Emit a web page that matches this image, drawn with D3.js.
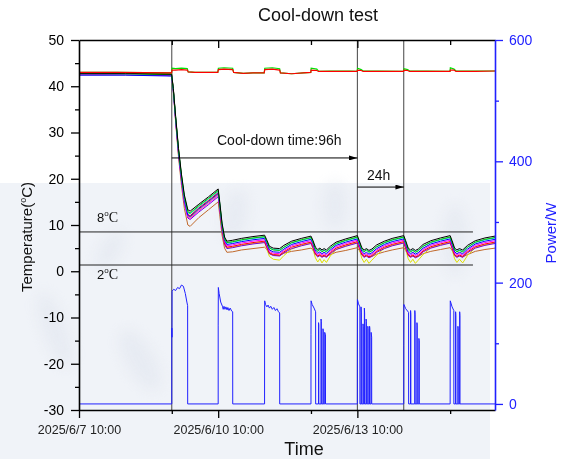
<!DOCTYPE html>
<html><head><meta charset="utf-8">
<script src="https://cdn.jsdelivr.net/npm/d3@7"></script>
<style>html,body{margin:0;padding:0;background:#fff;} svg{display:block;}</style>
</head><body>
<svg id="chart" width="563" height="459"></svg>
<script>
// ---------------- DATA ----------------
const startTime = "2025-06-07T10:00";
const endHours = 215.2;                       // hours after start shown on the x axis
const xMajorTicks = ["2025-06-07T10:00", "2025-06-10T10:00", "2025-06-13T10:00"];
const xMinorTicks = ["2025-06-09T10:00", "2025-06-12T10:00", "2025-06-15T10:00"];
const tempTicks = [-30, -20, -10, 0, 10, 20, 30, 40, 50];
const tempMinorTicks = [-25, -15, -5, 5, 15, 25, 35, 45];
const powerTicks = [0, 200, 400, 600];
const powerMinorTicks = [100, 300, 500];

// sample times (hours after 2025/6/7 10:00) for the sensor temperatures
const tempHours = [0,24,47.9, 48.8,50,51.5,53,54.5,56.3,57.5, 62,67,72,
  72.8,74,75.3,76.5,79.5,84,90,96,
  97,98.5,100.5,103.8,106,110,115,120,
  121,122.3,123.5,124.6,125.7,126.8,128,130,133,138,144,
  145,146.3,147.5,148.7,150,151.5,154,158,162,168,
  169,170.3,171.5,172.7,174,175.5,178,182,187,192,
  193,194.3,195.5,196.8,198.5,201,205,210,215.2];

const sensorBlack = [42.8,42.8,42.6, 39.5,33.5,26.5,21.0,16.5,13.3,13.0, 14.5,16.1,17.8,
  15.0,10.4,7.4,6.5,6.7,7.1,7.5,7.8,
  6.9,5.4,5.0,4.9,5.6,6.5,7.1,7.6,
  6.7,5.2,4.7,5.0,4.6,4.9,4.6,5.4,6.3,7.0,7.7,
  6.6,5.1,4.6,4.9,4.5,4.8,5.7,6.5,7.1,7.7,
  6.6,5.0,4.6,4.9,4.5,4.8,5.8,6.6,7.2,7.7,
  6.6,5.0,4.6,4.9,4.6,5.6,6.6,7.2,7.6];
const sensorGreen = [42.7,42.7,42.5, 39.3,33.3,26.3,20.7,16.2,12.9,12.6, 14.2,15.8,17.5,
  14.7,10.1,7.1,6.2,6.4,6.8,7.2,7.5,
  6.6,5.0,4.6,4.5,5.2,6.2,6.8,7.3,
  6.4,4.8,4.3,4.7,4.2,4.5,4.2,5.0,6.0,6.7,7.4,
  6.3,4.7,4.2,4.6,4.1,4.4,5.3,6.2,6.8,7.4,
  6.3,4.6,4.2,4.5,4.1,4.4,5.4,6.3,6.9,7.4,
  6.3,4.6,4.2,4.5,4.2,5.2,6.3,6.9,7.3];
const sensorCyan = [42.8,42.7,42.6, 39.3,33.2,26.1,20.6,16.0,12.7,12.4, 14.0,15.6,17.3,
  14.6,10.0,7.0,6.1,6.3,6.7,7.1,7.4,
  6.5,5.1,4.7,4.6,5.2,6.1,6.7,7.2,
  6.3,4.9,4.4,4.7,4.3,4.6,4.3,5.0,5.9,6.6,7.3,
  6.2,4.8,4.3,4.6,4.2,4.5,5.3,6.1,6.7,7.3,
  6.2,4.7,4.3,4.6,4.2,4.5,5.4,6.2,6.8,7.3,
  6.2,4.7,4.3,4.6,4.3,5.2,6.2,6.8,7.2];
const sensorBlue = [42.4,42.4,42.2, 39.0,32.8,25.7,20.1,15.5,12.1,11.8, 13.5,15.1,16.8,
  14.2,9.6,6.7,5.8,6.0,6.4,6.8,7.1,
  6.1,4.6,4.2,4.1,4.8,5.8,6.4,6.9,
  6.0,4.4,3.9,4.2,3.8,4.1,3.8,4.6,5.6,6.3,7.0,
  5.8,4.3,3.8,4.1,3.7,4.0,4.9,5.8,6.4,7.0,
  5.8,4.2,3.8,4.1,3.7,4.0,5.0,5.9,6.5,7.0,
  5.8,4.2,3.8,4.1,3.8,4.8,5.9,6.5,6.9];
const sensorMagenta = [42.6,42.6,42.4, 39.1,32.7,25.5,19.8,15.1,11.7,11.4, 13.1,14.7,16.4,
  13.8,9.3,6.4,5.5,5.7,6.1,6.5,6.8,
  5.8,4.3,3.9,3.8,4.5,5.5,6.1,6.6,
  5.7,4.1,3.6,3.9,3.5,3.8,3.5,4.3,5.3,6.0,6.7,
  5.5,4.0,3.5,3.8,3.4,3.7,4.6,5.5,6.1,6.7,
  5.5,3.9,3.5,3.8,3.4,3.7,4.7,5.6,6.2,6.7,
  5.5,3.9,3.5,3.8,3.5,4.5,5.6,6.2,6.6];
const sensorRed = [42.9,42.9,42.7, 39.4,33.1,26.0,20.3,15.7,12.3,12.0, 13.7,15.3,17.0,
  13.9,9.2,6.1,5.2,5.4,5.8,6.2,6.5,
  5.5,4.0,3.6,3.5,4.2,5.2,5.8,6.3,
  5.4,3.8,3.3,3.6,3.2,3.5,3.2,4.0,5.0,5.7,6.4,
  5.2,3.7,3.2,3.5,3.1,3.4,4.3,5.2,5.8,6.4,
  5.2,3.6,3.2,3.5,3.1,3.4,4.4,5.3,5.9,6.4,
  5.2,3.6,3.2,3.5,3.2,4.2,5.3,5.9,6.3];
const sensorPurple = [42.5,42.5,42.3, 39.0,32.5,25.2,19.5,14.8,11.5,11.2, 12.8,14.4,16.1,
  13.4,8.8,5.8,4.9,5.1,5.5,5.9,6.2,
  5.3,3.8,3.4,3.3,4.0,4.9,5.5,6.0,
  5.1,3.6,3.1,3.4,3.0,3.3,3.0,3.8,4.7,5.4,6.1,
  5.0,3.5,3.0,3.3,2.9,3.2,4.1,4.9,5.5,6.1,
  5.0,3.4,3.0,3.3,2.9,3.2,4.2,5.0,5.6,6.1,
  5.0,3.4,3.0,3.3,3.0,4.0,5.0,5.6,6.0];
const sensorYellow = [42.6,42.6,42.4, 39.2,32.9,25.7,19.9,15.2,11.9,11.6, 13.3,14.9,16.6,
  13.6,8.9,5.9,5.0,5.2,5.6,6.0,6.3,
  5.0,3.2,2.6,2.4,3.4,4.8,5.6,6.1,
  4.8,2.9,2.0,2.7,1.8,2.5,1.9,3.3,4.7,5.5,6.2,
  4.8,2.8,1.9,2.6,1.7,2.4,3.5,5.0,5.6,6.2,
  4.8,2.7,1.9,2.6,1.7,2.4,3.6,5.1,5.7,6.2,
  4.8,2.7,1.9,2.6,1.8,3.4,5.1,5.7,6.1];
const sensorBrown = [42.5,42.5,42.3, 38.9,32.2,24.6,18.6,13.6,10.0,9.7, 11.6,13.3,15.0,
  12.2,7.8,5.0,4.1,4.2,4.6,4.9,5.2,
  4.8,3.8,3.5,3.4,3.9,4.3,4.6,5.0,
  4.6,3.7,3.3,3.4,3.2,3.3,3.2,3.6,4.1,4.5,5.1,
  4.5,3.6,3.2,3.3,3.1,3.2,3.7,4.2,4.6,5.1,
  4.5,3.5,3.2,3.3,3.1,3.2,3.8,4.3,4.7,5.1,
  4.5,3.5,3.2,3.3,3.1,3.6,4.3,4.7,5.0];

// ambient temperature (two probes)
const ambientHours = [0,20,47.9, 48.1,50,53,56,56.5, 60,66,71.8, 72.1,75,79.5,80, 85,90,95.8,
  96.1,100,103.8,104.2, 110,116,119.9, 120.1,123,124, 130,140,143.9, 144.1,146,147, 155,167.9,
  168.1,170,171, 180,191.9, 192.1,194,195, 205,215.2];
const ambientRed = [43.0,43.0,42.9, 43.5,43.5,43.6,43.5,43.1, 43.0,43.0,43.0, 43.6,43.7,43.6,43.0,
  42.8,42.9,42.9, 43.6,43.7,43.5,42.9, 42.7,42.9,43.0, 43.5,43.4,43.2, 43.2,43.2,43.2,
  43.5,43.4,43.2, 43.2,43.2, 43.5,43.4,43.2, 43.2,43.2, 43.5,43.5,43.2, 43.2,43.3];
const ambientGreen = [43.0,43.0,42.9, 43.9,43.8,43.9,43.8,43.1, 43.0,43.0,43.0, 43.9,44.0,43.9,43.0,
  42.8,42.9,42.9, 43.9,44.0,43.8,42.9, 42.7,42.9,43.0, 43.9,43.7,43.2, 43.3,43.3,43.2,
  43.9,43.6,43.3, 43.3,43.2, 43.8,43.6,43.3, 43.3,43.2, 44.0,43.7,43.3, 43.3,43.3];

// cooling power: [hours after start, watts]
const powerTrace = [
  [0,0],[48,0],[48.01,125],[48.1,110],[48.15,186],[49,189],[50,187],[51,192],[52,190],[53,196],[54,194],[55,182],[55.8,168],[56.2,162],[56.22,0],
  [72,0],[72.01,130],[72.08,192],[72.5,182],[73.3,168],[74.2,161],[74.6,156],[75,161],[75.5,156],[76,160],[76.6,155],[77,159],[77.6,154],[78.2,158],[79,153],[79.5,152],[79.52,0],
  [96,0],[96.01,107],[96.06,170],[96.5,164],[97.2,160],[97.8,163],[98.5,158],[99.2,161],[100,156],[100.8,159],[101.6,154],[102.4,157],[103.2,152],[103.8,150],[103.82,0],
  [120,0],[120.01,115],[120.06,170],[120.6,164],[121.6,158],[122.4,152],[122.42,0],
  [123.9,0],[123.92,134],[124.05,130],[124.07,0],
  [125.2,0],[125.22,140],[125.35,136],[125.37,0],
  [126.2,0],[126.22,124],[126.35,120],[126.37,0],
  [127.1,0],[127.12,118],[127.5,114],[127.52,0],
  [144,0],[144.01,90],[144.06,172],[144.6,165],[145.3,160],[145.32,0],
  [145.9,0],[145.92,160],[146.05,150],[146.07,0],
  [146.9,0],[146.92,132],[147.05,128],[147.07,0],
  [147.6,0],[147.62,158],[147.75,150],[147.77,0],
  [148.5,0],[148.52,140],[148.65,136],[148.67,0],
  [149.4,0],[149.42,128],[149.55,124],[149.57,0],
  [150.3,0],[150.32,128],[150.45,124],[150.47,0],
  [151.1,0],[151.12,118],[151.4,110],[151.42,0],
  [168,0],[168.01,96],[168.06,164],[169,157],[170.5,151],[170.52,0],
  [171.5,0],[171.52,154],[171.65,148],[171.67,0],
  [173.7,0],[173.72,154],[173.85,148],[173.87,0],
  [174.8,0],[174.82,134],[174.95,130],[174.97,0],
  [175.8,0],[175.82,108],[176.0,104],[176.02,0],
  [192,0],[192.01,107],[192.06,170],[193,160],[193.9,154],[193.92,0],
  [194.8,0],[194.82,152],[194.95,146],[194.97,0],
  [196,0],[196.02,128],[196.15,124],[196.17,0],
  [196.9,0],[196.92,152],[197.05,146],[197.07,0],
  [215.2,0]
];

// annotation values
const markerHours = [48, 144, 168];              // vertical reference lines
const refTemps = [8.5, 1.35];                    // horizontal reference lines
const refLabels = ["8", "2"];
const refLineEndHours = 203.8;
const arrowFrom = [48, 144];
const arrowTo = [144, 168];
const arrowTemps = [24.5, 18.2];
const arrowLabels = ["Cool-down time:96h", "24h"];

// ---------------- STYLE / LAYOUT ----------------
const sensorStyle = [
  {data: sensorBrown, color: "#c0682a"},
  {data: sensorYellow, color: "#dede00"},
  {data: sensorPurple, color: "#7a00d6"},
  {data: sensorRed, color: "#ff0000"},
  {data: sensorMagenta, color: "#ff00ff"},
  {data: sensorBlue, color: "#0000ff"},
  {data: sensorCyan, color: "#00d0d0"},
  {data: sensorGreen, color: "#00c800"},
  {data: sensorBlack, color: "#000000"}
];
const W = 563, H = 459;
const plot = {left: 79, right: 495, top: 40, bottom: 410};
const FONT = "'Liberation Sans', Arial, Helvetica, sans-serif";
const SERIF = "'Liberation Serif', 'Times New Roman', serif";
const BLUE = "#2020ff";

const svg = d3.select("#chart");
const t0 = new Date(startTime);
const toDate = h => new Date(t0.getTime() + h * 3600000);
const x = d3.scaleTime().domain([toDate(0), toDate(endHours)]).range([plot.left, plot.right]);
const yT = d3.scaleLinear().domain([-30, 50]).range([plot.bottom, plot.top]);
const yP = d3.scaleLinear().domain([-10, 600]).range([plot.bottom, plot.top]);

// faded background picture region
const defs = svg.append("defs");
defs.append("filter").attr("id", "blur").append("feGaussianBlur").attr("stdDeviation", 7);
svg.append("rect").attr("x", 0).attr("y", 183).attr("width", 490).attr("height", H - 183).attr("fill", "#f0f3f8");
const swirl = svg.append("g").attr("filter", "url(#blur)").attr("fill", "#dde2ec").attr("opacity", 0.45);
[[55, 330, 12, 40, -20], [140, 360, 14, 34, -30], [235, 215, 12, 26, 10], [335, 205, 12, 24, 0],
 [455, 240, 12, 36, 0], [110, 250, 10, 22, 30]].forEach(e =>
  swirl.append("ellipse").attr("cx", e[0]).attr("cy", e[1]).attr("rx", e[2]).attr("ry", e[3])
    .attr("transform", `rotate(${e[4]},${e[0]},${e[1]})`));

defs.append("clipPath").attr("id", "clip").append("rect")
  .attr("x", plot.left).attr("y", plot.top).attr("width", plot.right - plot.left).attr("height", plot.bottom - plot.top);
defs.append("marker").attr("id", "arrow").attr("viewBox", "0 0 10 6").attr("refX", 10).attr("refY", 3)
  .attr("markerWidth", 10).attr("markerHeight", 5).attr("markerUnits", "userSpaceOnUse").attr("orient", "auto")
  .append("path").attr("d", "M0,0L10,3L0,6Z").attr("fill", "#000");

const body = svg.append("g").attr("clip-path", "url(#clip)");

// vertical reference lines
body.selectAll("line.vref").data(markerHours).join("line")
  .attr("x1", d => x(toDate(d))).attr("x2", d => x(toDate(d)))
  .attr("y1", plot.top).attr("y2", plot.bottom).attr("stroke", "#444").attr("stroke-width", 1);
// horizontal reference lines
body.selectAll("line.href").data(refTemps).join("line")
  .attr("x1", plot.left).attr("x2", x(toDate(refLineEndHours)))
  .attr("y1", d => yT(d)).attr("y2", d => yT(d)).attr("stroke", "#222").attr("stroke-width", 1);

// sensor lines
const tLine = d3.line().x((d, i) => x(toDate(tempHours[i]))).y(d => yT(d));
sensorStyle.forEach(s => body.append("path").attr("d", tLine(s.data))
  .attr("fill", "none").attr("stroke", s.color).attr("stroke-width", 1).attr("stroke-linejoin", "round"));

// ambient
const aLine = d3.line().x((d, i) => x(toDate(ambientHours[i]))).y(d => yT(d));
body.append("path").attr("d", aLine(ambientGreen)).attr("fill", "none").attr("stroke", "#00e000").attr("stroke-width", 1.2);
body.append("path").attr("d", aLine(ambientRed)).attr("fill", "none").attr("stroke", "#ff0000").attr("stroke-width", 1.2);

// power
const pLine = d3.line().x(d => x(toDate(d[0]))).y(d => yP(d[1]));
body.append("path").attr("d", pLine(powerTrace)).attr("fill", "none").attr("stroke", BLUE).attr("stroke-width", 1);

// arrows
arrowFrom.forEach((f, i) => {
  svg.append("line").attr("x1", x(toDate(f))).attr("x2", x(toDate(arrowTo[i])))
    .attr("y1", yT(arrowTemps[i])).attr("y2", yT(arrowTemps[i]))
    .attr("stroke", "#000").attr("stroke-width", 1).attr("marker-end", "url(#arrow)");
});
svg.append("text").attr("x", 217).attr("y", yT(arrowTemps[0]) - 13).attr("font-family", FONT).attr("font-size", 14)
  .attr("fill", "#111").text(arrowLabels[0]);
svg.append("text").attr("x", 367).attr("y", yT(arrowTemps[1]) - 7).attr("font-family", FONT).attr("font-size", 14)
  .attr("fill", "#111").text(arrowLabels[1]);

// reference labels  (8°C above the line, 2°C below)
[[refLabels[0], yT(refTemps[0]) - 10], [refLabels[1], yT(refTemps[1]) + 14]].forEach(([lab, yy]) => {
  const t = svg.append("text").attr("x", 97).attr("y", yy).attr("fill", "#111");
  t.append("tspan").attr("font-family", FONT).attr("font-size", 13).text(lab);
  t.append("tspan").attr("font-family", FONT).attr("font-size", 8).attr("dy", -6).text("o");
  t.append("tspan").attr("font-family", SERIF).attr("font-size", 14).attr("dy", 6).text("C");
});

// ---------------- AXES ----------------
function styleAxis(g, color, fs) {
  g.selectAll("path").attr("stroke", color).attr("stroke-width", 1.6);
  g.selectAll("line").attr("stroke", color).attr("stroke-width", 1.3);
  g.selectAll("text").attr("fill", color).attr("font-family", FONT).attr("font-size", fs);
}
const majorDates = xMajorTicks.map(d => new Date(d));
const minorDates = xMinorTicks.map(d => new Date(d));
const plainNum = d => String(d);

// bottom
const gB = svg.append("g").attr("transform", `translate(0,${plot.bottom})`)
  .call(d3.axisBottom(x).tickValues(majorDates).tickFormat(d3.timeFormat("%Y/%-m/%-d %H:%M"))
    .tickSize(8).tickPadding(7).tickSizeOuter(0));
styleAxis(gB, "#000", 12.5);
gB.selectAll("text").attr("fill", "#222");
const gBm = svg.append("g").attr("transform", `translate(0,${plot.bottom})`)
  .call(d3.axisBottom(x).tickValues(minorDates).tickFormat("").tickSize(4).tickSizeOuter(0));
gBm.select(".domain").remove(); styleAxis(gBm, "#000", 12);
// top (inward ticks)
const gT = svg.append("g").attr("transform", `translate(0,${plot.top})`)
  .call(d3.axisBottom(x).tickValues(majorDates.slice(1)).tickFormat("").tickSize(8).tickSizeOuter(0));
styleAxis(gT, "#000", 12);
const gTm = svg.append("g").attr("transform", `translate(0,${plot.top})`)
  .call(d3.axisBottom(x).tickValues(minorDates).tickFormat("").tickSize(5).tickSizeOuter(0));
gTm.select(".domain").remove(); styleAxis(gTm, "#000", 12);
// left
const gL = svg.append("g").attr("transform", `translate(${plot.left},0)`)
  .call(d3.axisLeft(yT).tickValues(tempTicks).tickFormat(plainNum).tickSize(8).tickPadding(7).tickSizeOuter(0));
styleAxis(gL, "#000", 14);
const gLm = svg.append("g").attr("transform", `translate(${plot.left},0)`)
  .call(d3.axisLeft(yT).tickValues(tempMinorTicks).tickFormat("").tickSize(4).tickSizeOuter(0));
gLm.select(".domain").remove(); styleAxis(gLm, "#000", 14);
// right
const gR = svg.append("g").attr("transform", `translate(${plot.right},0)`)
  .call(d3.axisRight(yP).tickValues(powerTicks).tickFormat(plainNum).tickSize(8).tickPadding(6).tickSizeOuter(0));
styleAxis(gR, BLUE, 14);
const gRm = svg.append("g").attr("transform", `translate(${plot.right},0)`)
  .call(d3.axisRight(yP).tickValues(powerMinorTicks).tickFormat("").tickSize(4).tickSizeOuter(0));
gRm.select(".domain").remove(); styleAxis(gRm, BLUE, 14);

// titles
svg.append("text").attr("x", 318).attr("y", 21).attr("text-anchor", "middle")
  .attr("font-family", FONT).attr("font-size", 18).attr("fill", "#111").text("Cool-down test");
svg.append("text").attr("x", 304).attr("y", 455).attr("text-anchor", "middle")
  .attr("font-family", FONT).attr("font-size", 18).attr("fill", "#111").text("Time");
const yt = svg.append("text").attr("transform", "translate(32,237) rotate(-90)").attr("text-anchor", "middle")
  .attr("font-family", FONT).attr("font-size", 15).attr("fill", "#111");
yt.append("tspan").text("Temperature(");
yt.append("tspan").attr("font-size", 9).attr("dy", -6).text("o");
yt.append("tspan").attr("dy", 6).text("C)");
svg.append("text").attr("transform", "translate(556,233) rotate(-90)").attr("text-anchor", "middle")
  .attr("font-family", FONT).attr("font-size", 15).attr("fill", BLUE).text("Power/W");
</script>
</body></html>
